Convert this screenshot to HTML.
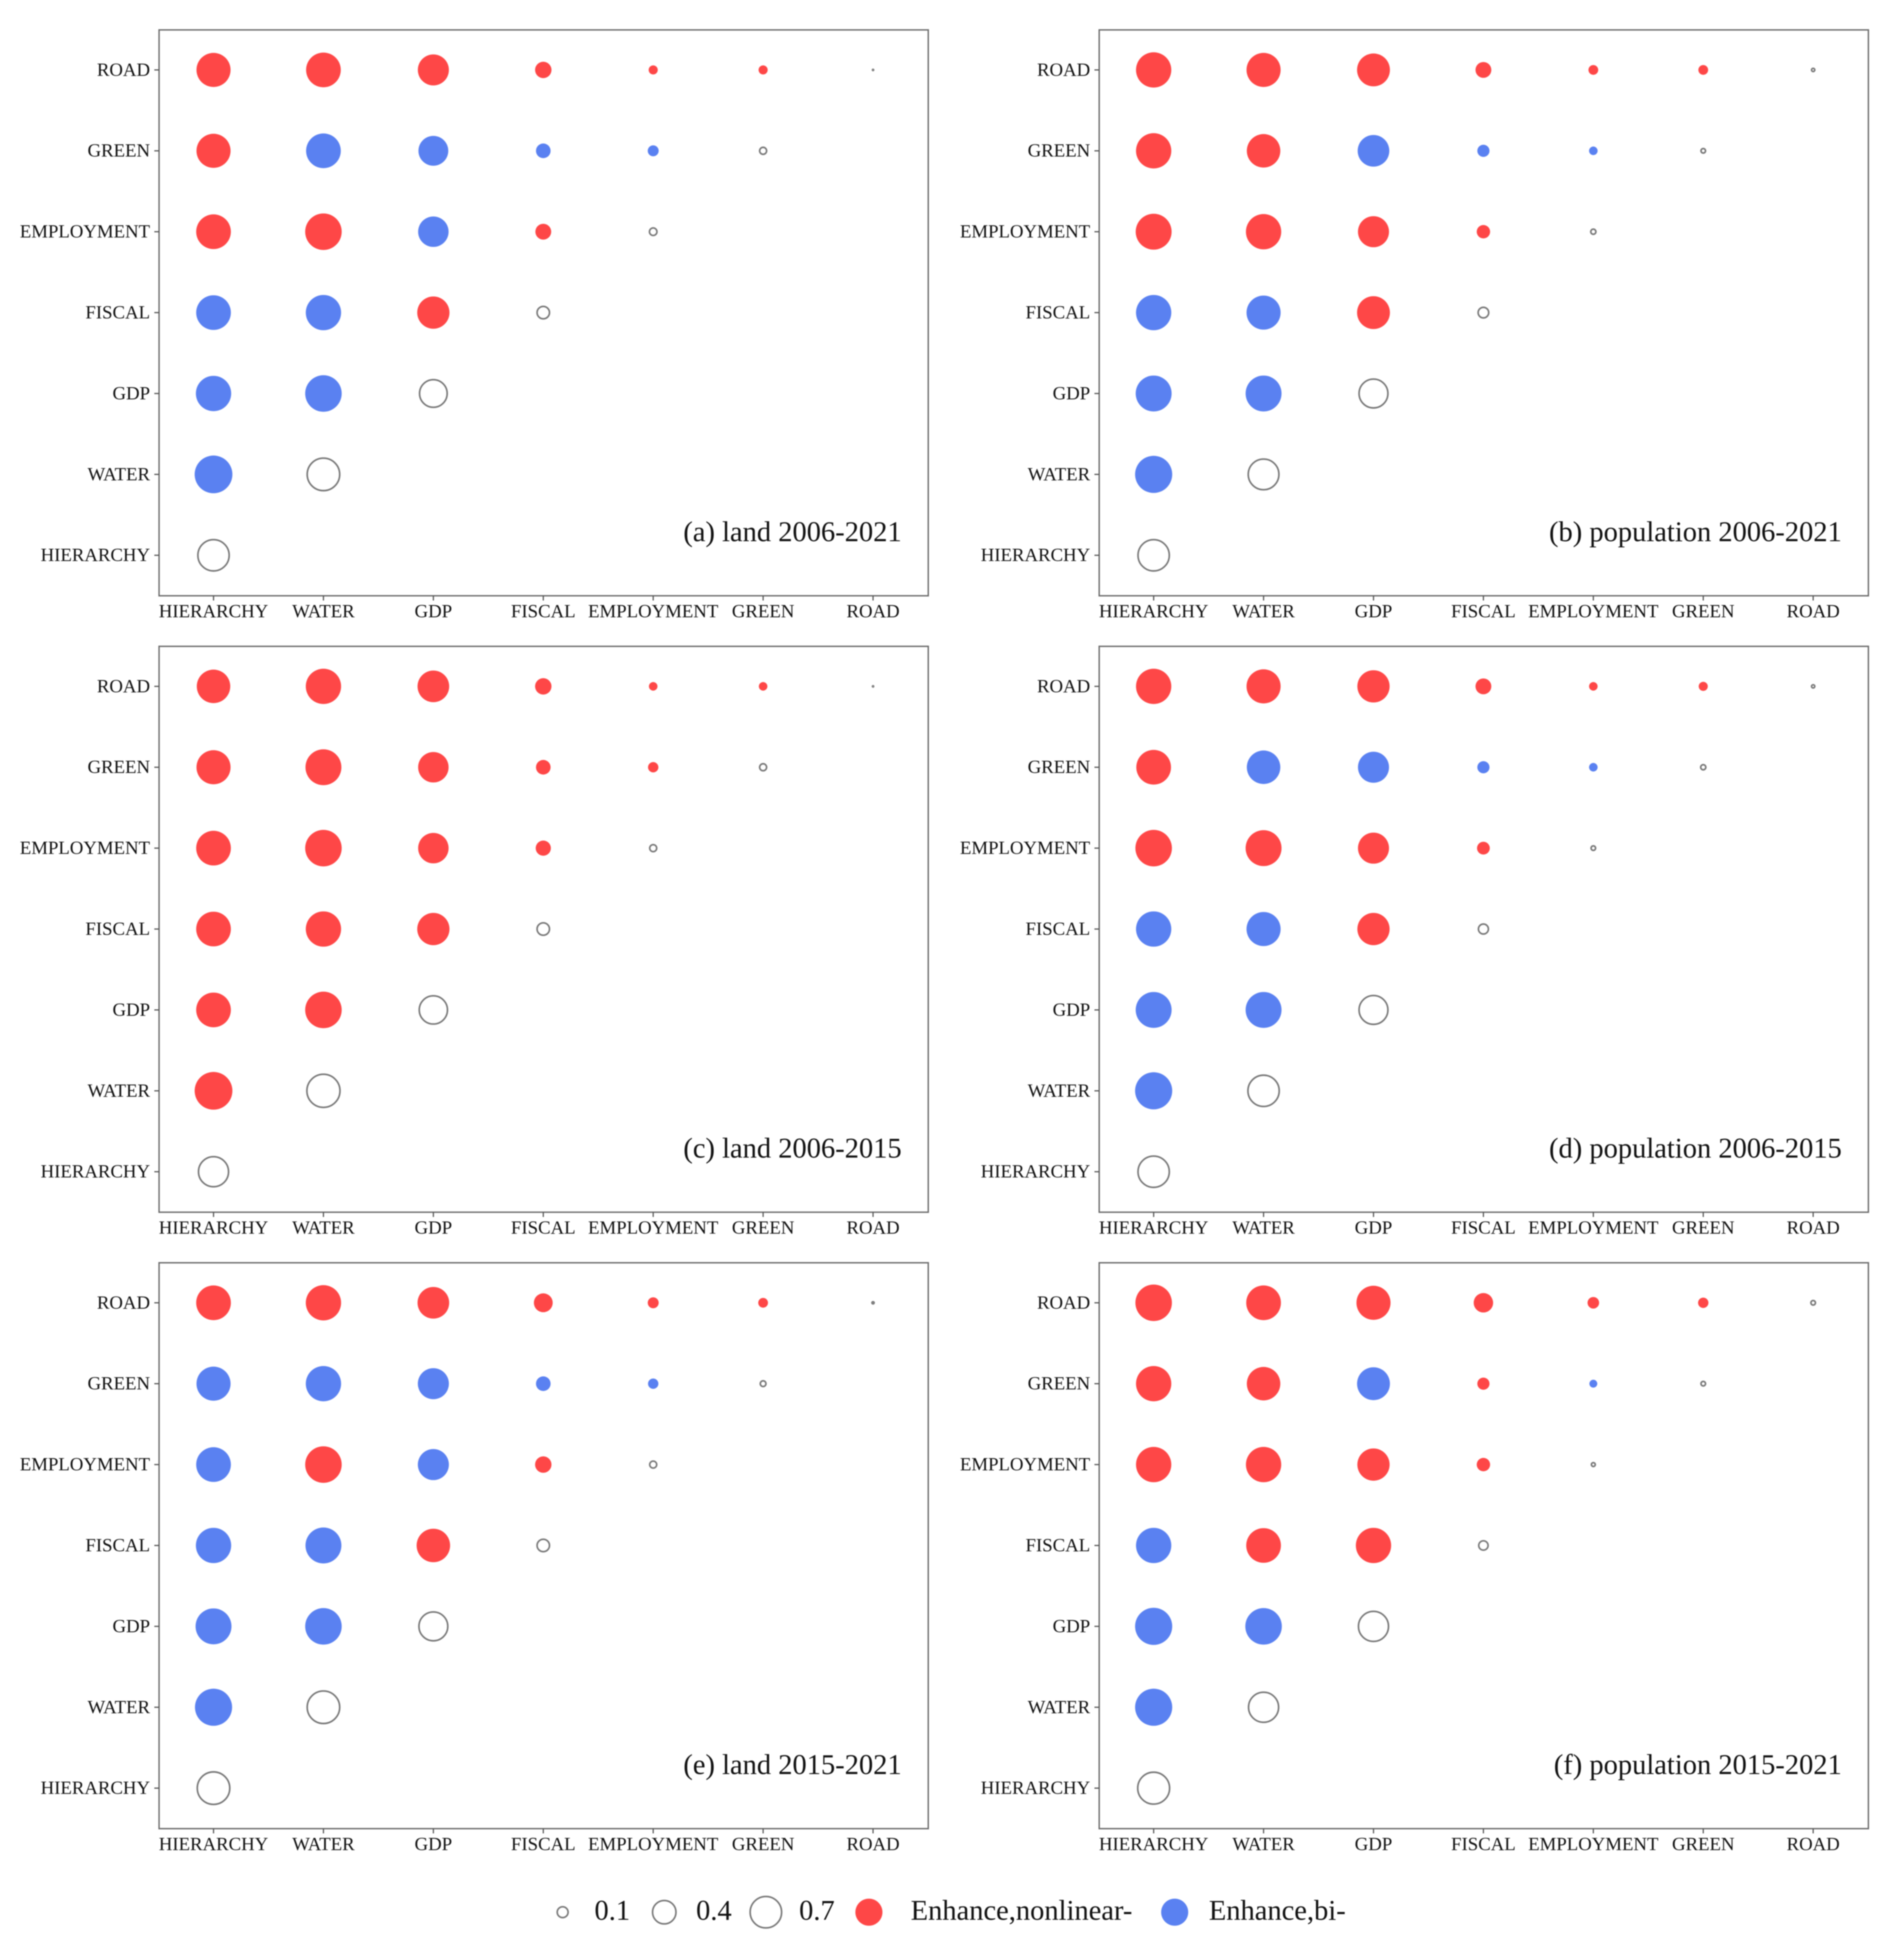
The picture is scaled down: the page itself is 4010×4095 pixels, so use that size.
<!DOCTYPE html>
<html lang="en">
<head>
<meta charset="utf-8">
<title>Interaction bubble matrices</title>
<style>
  html, body { margin: 0; padding: 0; background: #fff; }
  body { width: 4010px; height: 4095px; overflow: hidden; }
  svg { display: block; filter: blur(1.2px); }
  text { font-family: "Liberation Serif", serif; fill: #111; }
</style>
</head>
<body>
<svg id="figure" xmlns="http://www.w3.org/2000/svg" width="4010" height="4095" viewBox="0 0 4010 4095"></svg>
<script>
// Axis categories (x order; y axis runs bottom-up in the same order)
const categories = ["HIERARCHY", "WATER", "GDP", "FISCAL", "EMPLOYMENT", "GREEN", "ROAD"];

// Values. Rows run top-down: ROAD, GREEN, EMPLOYMENT, FISCAL, GDP, WATER, HIERARCHY
// Kinds: n = enhance nonlinear, b = enhance bi, h = hollow (single factor)
const valuesA = [
  [.745, .772, .618, .173, .053, .053, .002],
  [.745, .772, .570, .137, .077, .047],
  [.772, .855, .594, .161, .053],
  [.772, .799, .667, .126],
  [.799, .855, .547],
  [.913, .745],
  [.693]
];
const kindsA = [
  ["n", "n", "n", "n", "n", "n", "h"],
  ["n", "b", "b", "b", "b", "h"],
  ["n", "n", "b", "n", "h"],
  ["b", "b", "n", "h"],
  ["b", "b", "h"],
  ["b", "h"],
  ["h"]
];
const valuesB = [
  [.799, .745, .693, .161, .061, .061, .015],
  [.799, .719, .642, .095, .047, .024],
  [.827, .799, .618, .115, .029],
  [.799, .745, .693, .095],
  [.827, .827, .594],
  [.884, .667],
  [.693]
];
const kindsB = [
  ["n", "n", "n", "n", "n", "n", "h"],
  ["n", "n", "b", "b", "b", "h"],
  ["n", "n", "n", "n", "h"],
  ["b", "b", "n", "h"],
  ["b", "b", "h"],
  ["b", "h"],
  ["h"]
];
const valuesC = [
  [.719, .799, .642, .173, .047, .047, .002],
  [.745, .827, .594, .137, .069, .047],
  [.772, .855, .594, .148, .047],
  [.772, .799, .667, .126],
  [.772, .855, .570],
  [.913, .772],
  [.642]
];
const kindsC = [
  ["n", "n", "n", "n", "n", "n", "h"],
  ["n", "n", "n", "n", "n", "h"],
  ["n", "n", "n", "n", "h"],
  ["n", "n", "n", "h"],
  ["n", "n", "h"],
  ["n", "h"],
  ["h"]
];
const valuesD = [
  [.799, .745, .667, .161, .047, .053, .015],
  [.772, .719, .618, .095, .047, .029],
  [.855, .827, .618, .105, .024],
  [.799, .745, .667, .086],
  [.827, .827, .594],
  [.884, .693],
  [.693]
];
const kindsD = [
  ["n", "n", "n", "n", "n", "n", "h"],
  ["n", "b", "b", "b", "b", "h"],
  ["n", "n", "n", "n", "h"],
  ["b", "b", "n", "h"],
  ["b", "b", "h"],
  ["b", "h"],
  ["h"]
];
const valuesE = [
  [.772, .799, .642, .228, .077, .061, .009],
  [.745, .799, .618, .137, .069, .034],
  [.772, .855, .618, .173, .047],
  [.799, .827, .719, .126],
  [.827, .855, .594],
  [.884, .745],
  [.745]
];
const kindsE = [
  ["n", "n", "n", "n", "n", "n", "h"],
  ["b", "b", "b", "b", "b", "h"],
  ["b", "n", "b", "n", "h"],
  ["b", "b", "n", "h"],
  ["b", "b", "h"],
  ["b", "h"],
  ["h"]
];
const valuesF = [
  [.855, .772, .745, .243, .086, .069, .024],
  [.799, .719, .693, .095, .040, .024],
  [.799, .799, .667, .115, .019],
  [.799, .772, .799, .077],
  [.884, .855, .642],
  [.884, .642],
  [.719]
];
const kindsF = [
  ["n", "n", "n", "n", "n", "n", "h"],
  ["n", "n", "b", "n", "b", "h"],
  ["n", "n", "n", "n", "h"],
  ["b", "n", "n", "h"],
  ["b", "b", "h"],
  ["b", "h"],
  ["h"]
];

// Panel titles in reading order
const panelTitles = [
  "(a) land 2006-2021", "(b) population 2006-2021",
  "(c) land 2006-2015", "(d) population 2006-2015",
  "(e) land 2015-2021", "(f) population 2015-2021"
];
const panelValues = [valuesA, valuesB, valuesC, valuesD, valuesE, valuesF];
const panelKinds = [kindsA, kindsB, kindsC, kindsD, kindsE, kindsF];

// Legend contents
const legendSizes = [0.1, 0.4, 0.7];
const legendSizeLabels = ["0.1", "0.4", "0.7"];
const legendKinds = ["n", "b"];
const legendKindLabels = ["Enhance,nonlinear-", "Enhance,bi-"];
const legendKindSize = 0.47;

const NS = "http://www.w3.org/2000/svg";
const figure = document.getElementById("figure");
const RED = "#fe4747", BLUE = "#5a81f1", HOLLOW = "#777", FRAME = "#6e6e6e";

function sizeScale(v) { return 41.6 * Math.sqrt(v); }
function panelLeft(col) { return 335 + col * 1980; }
function panelTop(row) { return 63 + row * 1298.5; }
function xScale(left, j) { return left + 114.7 + j * 231.5; }
function yScale(top, i) { return top + 84.3 + i * 170.4; }

function make(tag, attrs, parent) {
  const el = document.createElementNS(NS, tag);
  for (const k in attrs) el.setAttribute(k, attrs[k]);
  parent.appendChild(el);
  return el;
}

function drawMarker(parent, cx, cy, v, kind) {
  const r = sizeScale(v);
  const hollow = kind === "h";
  const c = make("circle", {
    cx: cx, cy: cy,
    r: hollow ? Math.max(r - 1.7, 1.2) : r,
    fill: hollow ? "#fff" : (kind === "n" ? RED : BLUE),
    stroke: hollow ? HOLLOW : "none",
    "stroke-width": hollow ? 3.4 : 0
  }, parent);
  return c;
}

panelTitles.forEach(function (title, p) {
  const left = panelLeft(p % 2), top = panelTop(Math.floor(p / 2));
  const w = 1620, h = 1192;
  const g = make("g", {}, figure);
  
  

  const frame = make("rect", { x: left, y: top, width: w, height: h, fill: "#fff", stroke: FRAME, "stroke-width": 3 }, g);
  
  

  categories.forEach(function (cat, j) {
    const x = xScale(left, j);
    const xTick = make("line", { x1: x, x2: x, y1: top + h, y2: top + h + 10, stroke: "#555", "stroke-width": 2.5 }, g);
    
    
    const xLabel = make("text", { x: x, y: top + h + 45, "text-anchor": "middle", "font-size": 39.5 }, g);
    
    
    xLabel.textContent = cat;

    const i = categories.length - 1 - j;
    const y = yScale(top, i);
    const yTick = make("line", { x1: left - 10, x2: left, y1: y, y2: y, stroke: "#555", "stroke-width": 2.5 }, g);
    
    
    const yLabel = make("text", { x: left - 19, y: y + 12, "text-anchor": "end", "font-size": 39.5 }, g);
    
    
    yLabel.textContent = cat;
  });

  panelValues[p].forEach(function (row, i) {
    row.forEach(function (v, j) {
      const kind = panelKinds[p][i][j];
      const m = drawMarker(g, xScale(left, j), yScale(top, i), v, kind);
      
      
    });
  });

  const t = make("text", { x: left + 1564, y: top + 1077, "text-anchor": "end", "font-size": 60 }, g);
  
  
  t.textContent = title;
});

// Legend
const legend = make("g", {}, figure);


const legendY = 4028;
const legendBaseline = 4044;
const legendSizeMarkX = [1185, 1399, 1613];
const legendSizeTextX = [1252, 1466, 1683];
legendSizes.forEach(function (v, i) {
  const m = drawMarker(legend, legendSizeMarkX[i], legendY, v, "h");
  
  
  const t = make("text", { x: legendSizeTextX[i], y: legendBaseline, "font-size": 60 }, legend);
  
  
  t.textContent = legendSizeLabels[i];
});
const legendKindMarkX = [1830, 2474];
const legendKindTextX = [1918, 2546];
legendKinds.forEach(function (k, i) {
  const m = drawMarker(legend, legendKindMarkX[i], legendY, legendKindSize, k);
  
  
  const t = make("text", { x: legendKindTextX[i], y: legendBaseline, "font-size": 60 }, legend);
  
  
  t.textContent = legendKindLabels[i];
});
</script>
</body>
</html>
